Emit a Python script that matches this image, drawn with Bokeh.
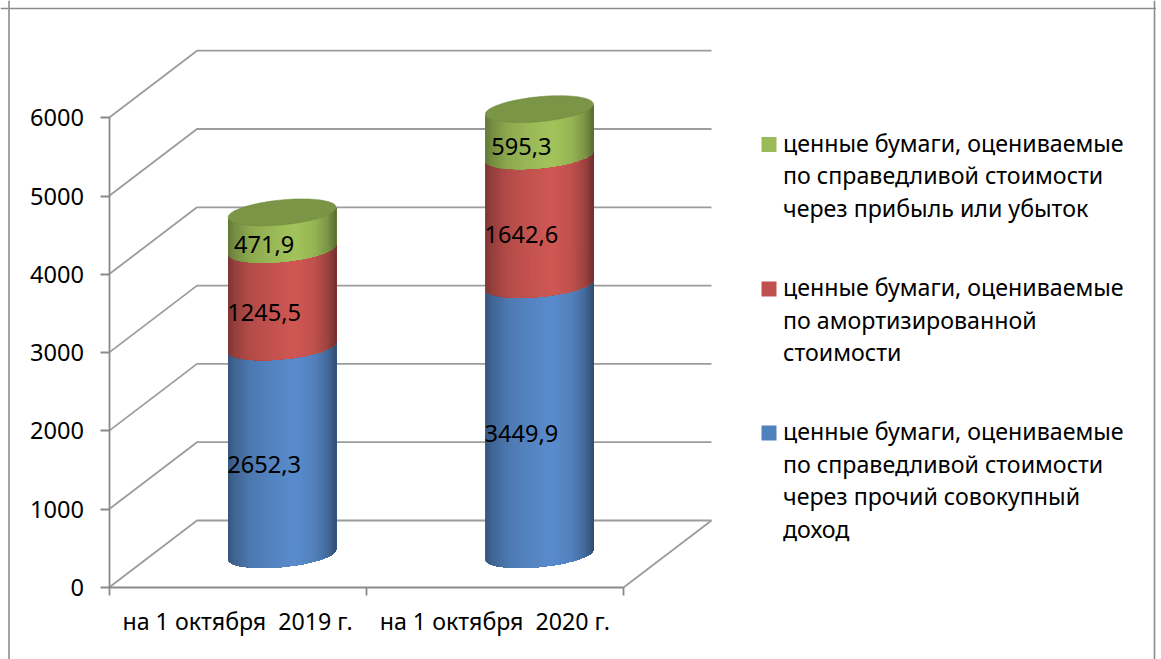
from bokeh.plotting import figure
from bokeh.models import FixedTicker, Span, Range1d
from bokeh.core.properties import value
from bokeh.embed import file_html
from bokeh.resources import INLINE
import numpy as np

categories = ["на 1 октября \u00a02019 г.", "на 1 октября \u00a02020 г."]
fair_oci = [2652.3, 3449.9]
amortized = [1245.5, 1642.6]
fair_pl = [471.9, 595.3]
y_ticks = [0, 1000, 2000, 3000, 4000, 5000, 6000]
series_labels = [
    ["ценные бумаги, оцениваемые", "по справедливой стоимости", "через прибыль или убыток"],
    ["ценные бумаги, оцениваемые", "по амортизированной", "стоимости"],
    ["ценные бумаги, оцениваемые", "по справедливой стоимости", "через прочий совокупный", "доход"],
]

FONT = "Noto Sans"
FS = "23.6px"
FS_TEXT = "23.2px"
W, H = 1156, 659
PX0, PY0, SX, SY = 108.5, 587.0, 257.25, 0.0783

def dx(px):
    return (px - PX0) / SX

def dy(py):
    return (PY0 - py) / SY

p = figure(width=W, height=H, output_backend="svg", toolbar_location=None, tools="",
           x_range=Range1d(dx(0), dx(W)), y_range=Range1d(dy(H), dy(0)),
           min_border=0, outline_line_color=None, background_fill_color="white")
p.grid.visible = False

GRID = "#9c9c9c"
AXIS = "#8a8a8a"
depth_x, depth_y = 88 / SX, 67 / SY
n_cat = len(categories)

# walls and floor
for v in y_ticks:
    p.line([0, depth_x, n_cat + depth_x], [v, v + depth_y, v + depth_y], line_color=GRID, line_width=1.8)
p.line([n_cat, n_cat + depth_x], [0, depth_y], line_color=GRID, line_width=1.8)

# outer chart border
for kw in (dict(location=dx(8.5), dimension="height"), dict(location=dx(1154), dimension="height"),
           dict(location=dy(8), dimension="width")):
    p.add_layout(Span(line_color="#8c8c8c", line_width=1.6, **kw))

# axes
ya = p.yaxis[0]
ya.fixed_location = 0
ya.ticker = FixedTicker(ticks=y_ticks)
ya.bounds = (0, 6000)
ya.major_tick_in, ya.major_tick_out = 0, 9
ya.minor_tick_line_color = None
ya.axis_line_color = AXIS
ya.major_tick_line_color = AXIS
ya.axis_line_width = ya.major_tick_line_width = 1.8
ya.major_label_text_font = FONT
ya.major_label_text_font_size = FS
ya.major_label_text_color = "black"
ya.major_label_standoff = 16

xa = p.xaxis[0]
xa.fixed_location = 0
centers = [i + 0.5 for i in range(n_cat)]
xa.ticker = FixedTicker(ticks=centers, minor_ticks=list(range(n_cat + 1)))
xa.major_label_overrides = {c: t for c, t in zip(centers, categories)}
xa.bounds = (0, n_cat)
xa.major_tick_in, xa.major_tick_out = 0, 0
xa.minor_tick_in, xa.minor_tick_out = 0, 8
xa.axis_line_color = AXIS
xa.minor_tick_line_color = AXIS
xa.axis_line_width = xa.minor_tick_line_width = 1.8
xa.major_label_text_font = FONT
xa.major_label_text_font_size = FS_TEXT
xa.major_label_text_color = "black"
xa.major_label_standoff = 9

# cylinders
half_w = 54.0 / SX
shift_x = 44.5 / SX
base = 33 / SY
ell_b = 12.5 / SY
ell_k = 5.0 / SY
N = 80

def front(xc, x, v):
    u = np.clip((x - xc) / half_w, -1, 1)
    return base + v + ell_k * u - ell_b * np.sqrt(1 - u * u)

def shade(t):
    return np.interp(t, [0, 0.06, 0.2, 0.4, 0.62, 0.8, 0.92, 1.0],
                     [0.62, 0.72, 0.86, 0.94, 1.0, 0.92, 0.76, 0.56])

def hex_c(rgb, f):
    return "#%02x%02x%02x" % tuple(int(min(255, c * f)) for c in rgb)

stack = [(fair_oci, (90, 140, 205)), (amortized, (208, 88, 84)), (fair_pl, (163, 196, 92))]
legend_cols = ["#9bbb59", "#c0504d", "#4f81bd"]

for i in range(n_cat):
    xc = i + 0.5 + shift_x
    # rim-dense strip edges; each strip runs to the right rim and is overpainted by the next
    edges = xc - half_w * np.cos(np.pi * np.arange(N + 1) / N)
    bottom = 0.0
    for vals, rgb in stack:
        top = bottom + vals[i]
        xs, ys, cols = [], [], []
        for j in range(N):
            g = edges[j:]
            xs.append(list(g) + list(g[::-1]))
            ys.append(list(front(xc, g, top)) + list(front(xc, g[::-1], bottom)))
            cols.append(hex_c(rgb, shade(((edges[j] + edges[j + 1]) / 2 - xc + half_w) / (2 * half_w))))
        p.patches(xs, ys, fill_color=cols, line_color=None)
        bottom = top
    # top cap of the cylinder
    th = np.linspace(0, 2 * np.pi, 90)
    u = np.cos(th)
    cx = xc + half_w * u
    cy = base + bottom + ell_k * u + ell_b * np.sin(th)
    p.patch(cx, cy, fill_color="#7a9545", line_color="#6f8a3c", line_width=0.5)

# data labels
lx, ly, lt = [], [], []
for i in range(n_cat):
    bottom = 0.0
    for vals, _ in stack:
        lx.append(i + 0.5 + shift_x)
        ly.append(base + bottom + vals[i] / 2)
        lt.append(f"{vals[i]:.1f}".replace(".", ","))
        bottom += vals[i]
p.text(lx, ly, text=lt, text_font=value(FONT), text_font_size=value(FS), text_color="black",
       text_align="center", text_baseline="middle", x_offset=-18, y_offset=14)

# legend
marker_y = [144, 288.5, 432.5]
line_step = 32.5
for col, my, lines in zip(legend_cols, marker_y, series_labels):
    p.scatter([dx(768.5)], [dy(my)], marker="square", size=15, fill_color=col, line_color=None)
    p.text([dx(782.5)] * len(lines), [dy(my - 2 + k * line_step) for k in range(len(lines))], text=lines,
           text_font=value(FONT), text_font_size=value(FS_TEXT), text_color="black",
           text_align="left", text_baseline="middle")

open("out.html", "w").write(file_html(p, INLINE))
